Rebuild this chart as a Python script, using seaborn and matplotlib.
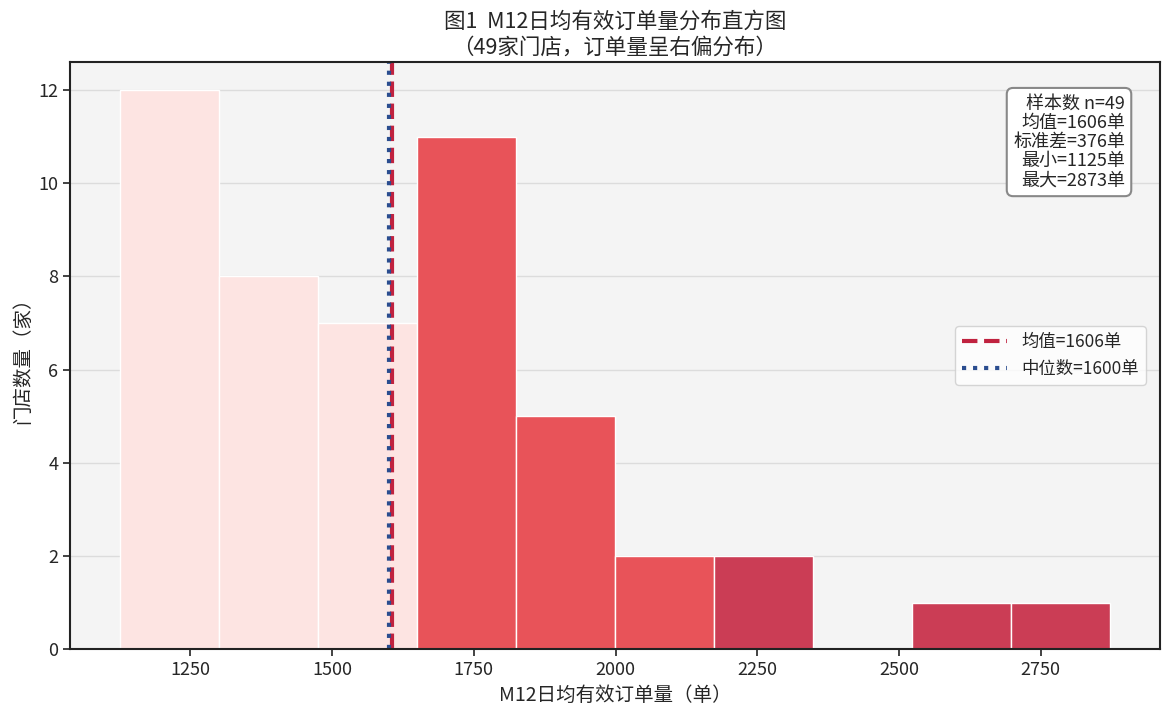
import matplotlib
matplotlib.use('Agg')
import matplotlib.pyplot as plt
import seaborn as sns
import numpy as np

# histogram bins (10 equal bins between min and max)
bin_edges = [1125.0, 1299.8, 1474.6, 1649.4, 1824.2, 1999.0,
             2173.8, 2348.6, 2523.4, 2698.2, 2873.0]
bin_counts = [12, 8, 7, 11, 5, 2, 2, 0, 1, 1]
bin_groups = ['low', 'low', 'low', 'mid', 'mid', 'mid', 'high', 'high', 'high', 'high']

group_colors = {'low': '#fde4e2', 'mid': '#e85359', 'high': '#cb3d55'}

n_stores = 49
mean_val = 1606
median_val = 1600
std_val = 376
min_val = 1125
max_val = 2873

sns.set_theme(style='whitegrid')
plt.rcParams['font.family'] = ['Noto Sans CJK SC', 'DejaVu Sans']
plt.rcParams['axes.unicode_minus'] = False

fig, ax = plt.subplots(figsize=(11.68, 7.12), dpi=100)
ax.set_facecolor('#f4f4f4')

centers = [(bin_edges[i] + bin_edges[i + 1]) / 2 for i in range(len(bin_counts))]
sns.histplot(x=centers, weights=bin_counts, bins=bin_edges, ax=ax,
             edgecolor='white', linewidth=1.0, alpha=1.0)

# recolor each bar by group
for patch, grp in zip(ax.patches, bin_groups):
    patch.set_facecolor(group_colors[grp])
    patch.set_alpha(1.0)

ax.axvline(mean_val, color='#c0223f', linestyle='--', linewidth=3,
           label=f'均值={mean_val}单')
ax.axvline(median_val, color='#2a4d8f', linestyle=':', linewidth=3,
           label=f'中位数={median_val}单')

ax.grid(axis='y', color='#dcdcdc', linewidth=1)
ax.grid(axis='x', visible=False)
ax.set_axisbelow(True)
for s in ax.spines.values():
    s.set_color('#222222')
    s.set_linewidth(1.5)
ax.tick_params(axis='both', which='both', length=5, width=1.2, color='#222222',
               labelsize=13, bottom=True, left=True)

ax.set_xlabel('M12日均有效订单量（单）', fontsize=14)
ax.set_ylabel('门店数量（家）', fontsize=14)
ax.set_title('图1  M12日均有效订单量分布直方图\n（49家门店，订单量呈右偏分布）', fontsize=15.5)

stats = (f'样本数 n={n_stores}\n均值={mean_val}单\n标准差={std_val}单\n'
         f'最小={min_val}单\n最大={max_val}单')
ax.text(0.968, 0.945, stats, transform=ax.transAxes, ha='right', va='top',
        fontsize=13, linespacing=1.1,
        bbox=dict(boxstyle='round,pad=0.35', facecolor='white', edgecolor='#888888', linewidth=1.5))

ax.legend(loc='center right', fontsize=12.5, frameon=True, facecolor='white',
          edgecolor='#cccccc', handlelength=2.6, borderaxespad=0.8)

fig.subplots_adjust(left=0.06, right=0.993, top=0.913, bottom=0.088)
fig.savefig('out.png', dpi=100)
